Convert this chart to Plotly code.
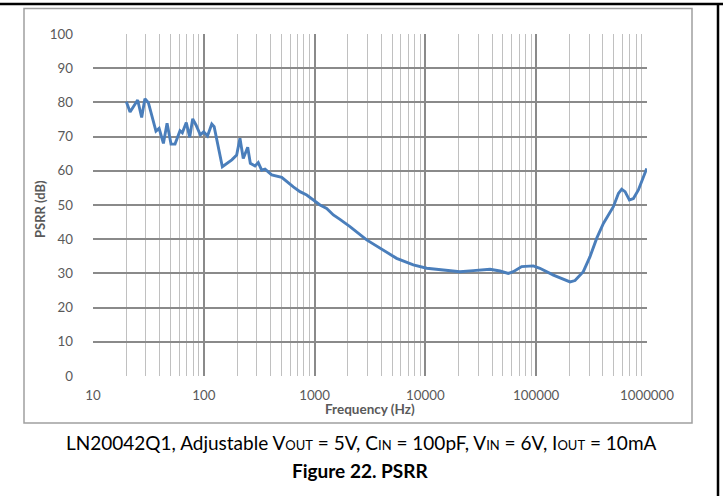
import plotly.graph_objects as go

freq_hz = [20, 21.6, 25.3, 27.5, 29.4, 31.6, 37, 39.5, 43.2, 46.6, 50.6, 55, 61, 64, 69.5, 74.6,
           79.4, 85, 93, 99.8, 108, 118, 124, 147, 179, 198, 212, 227, 249, 263, 290, 310, 333,
           357, 410, 505, 643, 738, 849, 973, 1120, 1285, 1477, 1694, 2085, 2950, 4170, 5500,
           7780, 10280, 14530, 20500, 27000, 38300, 47100, 56000, 62100, 73900, 94200, 108000,
           143000, 176000, 202000, 224000, 266000, 306000, 352000, 404000, 497000, 552000,
           591000, 634000, 694000, 754000, 836000, 994000]
psrr_db = [80.2, 77.2, 80.7, 75.6, 81.1, 79.9, 71.6, 72.4, 68.0, 73.9, 67.8, 67.8, 71.7, 71.1,
           74.1, 69.8, 75.2, 73.4, 70.5, 71.4, 70.2, 73.7, 72.9, 61.2, 63.2, 64.6, 69.5, 63.6,
           66.9, 62.2, 61.4, 62.4, 60.2, 60.5, 58.8, 58.1, 55.3, 53.9, 52.9, 51.5, 50.0, 49.0,
           47.1, 45.8, 43.7, 39.8, 36.8, 34.4, 32.5, 31.5, 31.0, 30.5, 30.8, 31.2, 30.7, 30.0,
           30.5, 32.0, 32.2, 31.5, 29.5, 28.3, 27.5, 27.9, 30.5, 34.9, 40.3, 44.6, 49.5, 53.4,
           54.6, 53.9, 51.5, 51.9, 54.4, 60.7]

x_tick_vals = [10, 100, 1000, 10000, 100000, 1000000]
x_tick_text = ["10", "100", "1000", "10000", "100000", "1000000"]
y_tick_vals = [0, 10, 20, 30, 40, 50, 60, 70, 80, 90, 100]

x_title = "Frequency (Hz)"
y_title = "PSRR (dB)"
SUB = "<span style='font-size:13px'>{}</span>"
caption = ("LN20042Q1, Adjustable V" + SUB.format("OUT") + " = 5V, "
           "C" + SUB.format("IN") + " = 100pF, "
           "V" + SUB.format("IN") + " = 6V, "
           "I" + SUB.format("OUT") + " = 10mA")
figure_title = "<b>Figure 22. PSRR</b>"

W, H = 723, 496
L, R, T, B = 93, 647, 34, 376

def px(x):
    return (x - L) / (R - L)

def py(y):
    return (B - y) / (B - T)

FONT = "Lato, 'Open Sans', sans-serif"
GRAY = "#595959"

fig = go.Figure()
fig.add_trace(go.Scatter(x=freq_hz, y=psrr_db, mode="lines",
                         line=dict(color="#4a7ebb", width=2.9), showlegend=False))

fig.update_layout(
    width=W, height=H,
    margin=dict(l=L, r=W - R, t=T, b=H - B, autoexpand=False),
    paper_bgcolor="white", plot_bgcolor="white",
    font=dict(family=FONT, size=13, color=GRAY),
    xaxis=dict(type="log", range=[1, 6], tickvals=x_tick_vals, ticktext=x_tick_text,
               showgrid=True, gridcolor="#8a8a8a", gridwidth=1.5, zeroline=False,
               ticks="", ticklabelstandoff=10, tickfont=dict(size=13.3, color=GRAY),
               minor=dict(dtick="D1", showgrid=True, gridcolor="#c0c0c0", gridwidth=1.3, ticks=""),
               showline=False, automargin=False),
    yaxis=dict(range=[0, 100], tickvals=y_tick_vals, showgrid=True, gridcolor="#8a8a8a",
               gridwidth=1.5, zeroline=False, ticks="", ticklabelstandoff=19,
               tickfont=dict(size=13.3, color=GRAY), showline=False, automargin=False),
)

shapes = [
    # chart border box
    dict(type="rect", xref="paper", yref="paper", x0=px(24), x1=px(692), y0=py(423), y1=py(8.5),
         line=dict(color="#a0a0a0", width=1.5), layer="below"),
    # top black rule
    dict(type="line", xref="paper", yref="paper", x0=px(0), x1=px(723), y0=py(4), y1=py(4),
         line=dict(color="black", width=2.5)),
    # right black rule
    dict(type="line", xref="paper", yref="paper", x0=px(718), x1=px(718), y0=py(4), y1=py(496),
         line=dict(color="black", width=2.5)),
]
fig.update_layout(shapes=shapes)

annotations = [
    dict(text="<b>" + x_title + "</b>", x=px(370), y=py(409), xref="paper", yref="paper",
         showarrow=False, font=dict(size=13.5, color=GRAY, family=FONT), xanchor="center", yanchor="middle"),
    dict(text="<b>" + y_title + "</b>", x=px(40), y=py(209), xref="paper", yref="paper",
         showarrow=False, textangle=-90, font=dict(size=13, color=GRAY, family=FONT),
         xanchor="center", yanchor="middle"),
    dict(text=caption, x=px(361), y=py(442), xref="paper", yref="paper", showarrow=False,
         font=dict(size=19, color="black", family=FONT), xanchor="center", yanchor="middle"),
    dict(text=figure_title, x=px(360), y=py(471), xref="paper", yref="paper", showarrow=False,
         font=dict(size=19, color="black", family=FONT), xanchor="center", yanchor="middle"),
]
fig.update_layout(annotations=annotations)

fig.write_html("out.html", config={"displayModeBar": False},
               post_script="document.body.style.margin='0';document.body.style.overflow='hidden';")
